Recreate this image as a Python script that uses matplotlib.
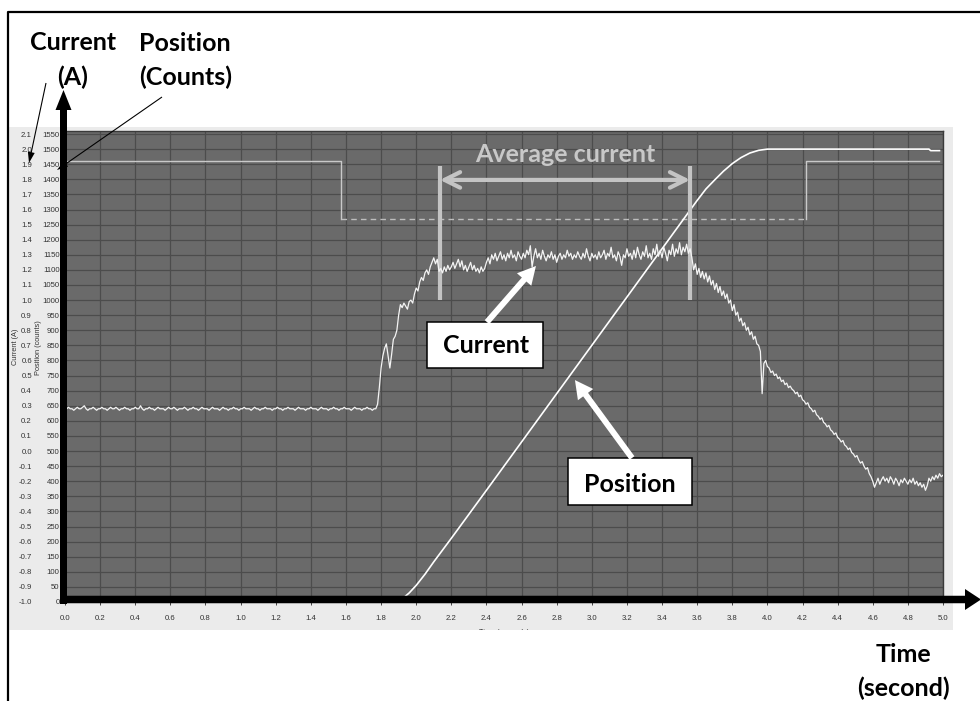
import numpy as np
import matplotlib
matplotlib.use("Agg")
import matplotlib.pyplot as plt
from matplotlib.patches import Rectangle, Polygon
from matplotlib.transforms import Affine2D, IdentityTransform

# ---------------------------------------------------------------- data
# motor current (A), sampled every 10 ms from 0.00 s to 5.00 s
sample_dt = 0.01
current_a = [
    # 0.00 - 1.77 s : idle
    0.28, 0.28, 0.29, 0.28, 0.28, 0.27, 0.28, 0.29, 0.28, 0.28,
    0.29, 0.30, 0.28, 0.27, 0.28, 0.28, 0.29, 0.28, 0.27, 0.28,
    0.28, 0.29, 0.28, 0.28, 0.27, 0.28, 0.29, 0.28, 0.28, 0.29,
    0.28, 0.27, 0.28, 0.28, 0.29, 0.28, 0.28, 0.27, 0.28, 0.28,
    0.29, 0.28, 0.28, 0.30, 0.28, 0.27, 0.28, 0.28, 0.29, 0.28,
    0.28, 0.27, 0.28, 0.29, 0.28, 0.28, 0.28, 0.27, 0.28, 0.29,
    0.28, 0.28, 0.29, 0.28, 0.27, 0.28, 0.28, 0.28, 0.29, 0.28,
    0.27, 0.28, 0.28, 0.29, 0.28, 0.28, 0.27, 0.28, 0.29, 0.28,
    0.28, 0.28, 0.27, 0.28, 0.29, 0.28, 0.28, 0.28, 0.27, 0.28,
    0.29, 0.28, 0.28, 0.27, 0.28, 0.28, 0.29, 0.28, 0.28, 0.27,
    0.28, 0.28, 0.29, 0.28, 0.28, 0.28, 0.27, 0.28, 0.29, 0.28,
    0.28, 0.27, 0.28, 0.28, 0.29, 0.28, 0.28, 0.28, 0.27, 0.28,
    0.28, 0.29, 0.28, 0.28, 0.27, 0.28, 0.28, 0.29, 0.28, 0.28,
    0.28, 0.27, 0.28, 0.29, 0.28, 0.28, 0.28, 0.27, 0.28, 0.28,
    0.29, 0.28, 0.28, 0.28, 0.27, 0.28, 0.29, 0.28, 0.28, 0.28,
    0.27, 0.28, 0.28, 0.29, 0.28, 0.28, 0.27, 0.28, 0.28, 0.29,
    0.28, 0.28, 0.28, 0.27, 0.28, 0.29, 0.28, 0.28, 0.28, 0.27,
    0.28, 0.28, 0.29, 0.28, 0.28, 0.27, 0.28, 0.28,
    # 1.78 - 2.13 s : acceleration
    0.31, 0.42, 0.55, 0.63, 0.68, 0.71, 0.63, 0.55, 0.64, 0.74,
    0.76, 0.80, 0.90, 0.97, 0.95, 0.98, 0.96, 0.94, 0.99, 1.00,
    0.98, 1.04, 1.08, 1.06, 1.12, 1.15, 1.13, 1.18, 1.20, 1.17,
    1.22, 1.25, 1.28, 1.24, 1.27, 1.19,
    # 2.14 - 3.56 s : constant speed
    1.21, 1.18, 1.22, 1.19, 1.23, 1.20, 1.22, 1.25, 1.21, 1.24,
    1.27, 1.22, 1.26, 1.20, 1.23, 1.19, 1.22, 1.25, 1.20, 1.23,
    1.19, 1.21, 1.18, 1.22, 1.19, 1.21, 1.25, 1.28, 1.24, 1.30,
    1.27, 1.31, 1.26, 1.29, 1.32, 1.27, 1.30, 1.26, 1.31, 1.28,
    1.33, 1.28, 1.30, 1.26, 1.32, 1.29, 1.27, 1.31, 1.28, 1.33,
    1.30, 1.36, 1.22, 1.29, 1.34, 1.28, 1.31, 1.27, 1.33, 1.29,
    1.26, 1.30, 1.28, 1.32, 1.27, 1.30, 1.25, 1.29, 1.31, 1.27,
    1.30, 1.28, 1.33, 1.29, 1.31, 1.27, 1.30, 1.28, 1.32, 1.29,
    1.27, 1.31, 1.28, 1.34, 1.29, 1.26, 1.31, 1.28, 1.30, 1.27,
    1.32, 1.28, 1.30, 1.33, 1.27, 1.31, 1.29, 1.35, 1.28, 1.30,
    1.26, 1.32, 1.29, 1.23, 1.30, 1.28, 1.34, 1.29, 1.31, 1.27,
    1.33, 1.28, 1.35, 1.30, 1.27, 1.32, 1.29, 1.36, 1.28, 1.31,
    1.27, 1.34, 1.30, 1.37, 1.29, 1.33, 1.28, 1.35, 1.31, 1.26,
    1.33, 1.30, 1.37, 1.29, 1.34, 1.31, 1.38, 1.30, 1.35, 1.32,
    1.37, 1.31, 1.34,
    # 3.57 - 5.00 s : deceleration and holding
    1.28, 1.20, 1.24, 1.17, 1.21, 1.15, 1.19, 1.14, 1.18, 1.12,
    1.16, 1.10, 1.13, 1.07, 1.11, 1.05, 1.09, 1.03, 1.06, 1.01,
    1.04, 0.98, 1.00, 0.93, 0.97, 0.90, 0.92, 0.86, 0.88, 0.83,
    0.85, 0.80, 0.82, 0.77, 0.79, 0.74, 0.76, 0.71, 0.70, 0.66,
    0.38, 0.58, 0.60, 0.56, 0.55, 0.52, 0.53, 0.50, 0.51, 0.48,
    0.49, 0.46, 0.47, 0.44, 0.45, 0.42, 0.43, 0.41, 0.40, 0.38,
    0.39, 0.36, 0.37, 0.34, 0.33, 0.31, 0.32, 0.29, 0.28, 0.26,
    0.27, 0.24, 0.23, 0.21, 0.22, 0.19, 0.18, 0.16, 0.17, 0.14,
    0.13, 0.11, 0.12, 0.09, 0.08, 0.06, 0.07, 0.04, 0.03, 0.01,
    0.02, -0.01, -0.02, -0.04, -0.03, -0.06, -0.08, -0.07, -0.10, -0.12,
    -0.11, -0.15, -0.17, -0.20, -0.24, -0.21, -0.18, -0.22, -0.19, -0.17,
    -0.20, -0.18, -0.21, -0.17, -0.19, -0.22, -0.18, -0.20, -0.23, -0.19,
    -0.21, -0.18, -0.20, -0.22, -0.19, -0.21, -0.18, -0.22, -0.20, -0.23,
    -0.21, -0.24, -0.22, -0.26, -0.23, -0.18, -0.20, -0.17, -0.19, -0.16,
    -0.18, -0.15, -0.17, -0.16,
]
time_s = np.arange(len(current_a)) * sample_dt

# encoder position (counts)
position_t = [0.00, 1.88, 1.92, 1.96, 2.00, 2.05, 2.10, 2.15, 2.20, 2.40, 2.60,
              2.80, 3.00, 3.20, 3.40, 3.60, 3.65, 3.70, 3.75, 3.80, 3.85,
              3.90, 3.95, 4.00, 4.92, 4.93, 4.98]
position_counts = [0, 0, 10, 30, 55, 92, 133, 172, 211, 370, 530,
                   690, 850, 1010, 1170, 1330, 1368, 1398, 1427, 1452, 1472,
                   1487, 1496, 1500, 1500, 1495, 1495]

# drive status trace (counts scale): high, low while moving, high again
status_t_high1 = [0.00, 1.57, 1.57]
status_c_high1 = [1460, 1460, 1270]
status_t_low = [1.57, 4.22]
status_c_low = [1270, 1270]
status_t_high2 = [4.22, 4.22, 4.98]
status_c_high2 = [1270, 1460, 1460]

# averaging window (s)
avg_window = [2.135, 3.56]

time_ticks = np.round(np.arange(0, 5.01, 0.2), 1)
count_ticks = np.arange(0, 1551, 50)
amp_ticks = np.round(np.arange(-1.0, 2.11, 0.1), 1) + 0.0

# ---------------------------------------------------------------- figure
W, H = 980, 701
fig = plt.figure(figsize=(W / 100, H / 100), dpi=100)
fig.patch.set_facecolor("white")

# image-pixel transform (origin top-left)
px = Affine2D().scale(1 / W, -1 / H).translate(0, 1) + fig.transFigure

BOLD = dict(family="Lato", weight="bold")
TICKFONT = "Liberation Sans"
TICKSIZE = 5.6

# light panel behind the chart
panel = Rectangle((9, 127), 944, 503, transform=px, facecolor="#ebebeb",
                  edgecolor="none", zorder=-5)
fig.add_artist(panel)

# outer frame
fig.add_artist(plt.Line2D([7.5, 7.5, 980], [701, 11.5, 11.5], transform=px,
                          color="black", lw=1.6, zorder=-4))

# ---------------------------------------------------------------- axes
ax_left, ax_right, ax_top, ax_bottom = 65, 943, 131, 602
ax = fig.add_axes([ax_left / W, 1 - ax_bottom / H,
                   (ax_right - ax_left) / W, (ax_bottom - ax_top) / H])
ax.set_facecolor("#6a6a6a")
ax.set_xlim(0, 5)
ax.set_ylim(0, 1560)
ax.set_xticks(time_ticks)
ax.set_xticklabels([f"{v:.1f}" for v in time_ticks])
ax.set_yticks(count_ticks)
ax.set_yticklabels([str(v) for v in count_ticks])
ax.grid(True, color="#4c4c4c", lw=0.9)
ax.set_axisbelow(True)
for side in ("left", "bottom"):
    ax.spines[side].set_visible(False)
for side in ("top", "right"):
    ax.spines[side].set_color("#3a3a3a")
    ax.spines[side].set_linewidth(1.0)
ax.tick_params(axis="x", length=2, width=0.7, color="#444444", pad=7,
               labelsize=TICKSIZE, labelcolor="#333333")
ax.tick_params(axis="y", length=1.5, width=0.7, color="#444444", pad=2.3,
               labelsize=TICKSIZE, labelcolor="#333333")
for lab in ax.get_xticklabels() + ax.get_yticklabels():
    lab.set_family(TICKFONT)

# current scale shares the left side
ax2 = ax.twinx()
ax2.set_ylim(-1.0, -1.0 + 1560 / 500)
ax2.yaxis.set_ticks_position("left")
ax2.set_yticks(amp_ticks)
ax2.set_yticklabels([f"{v:.1f}" for v in amp_ticks])
ax2.tick_params(axis="y", length=0, pad=23.8, labelsize=TICKSIZE,
                labelcolor="#333333")
for lab in ax2.get_yticklabels():
    lab.set_family(TICKFONT)
for s in ax2.spines.values():
    s.set_visible(False)

# traces
ax.plot(status_t_high1, status_c_high1, color="#c9c9c9", lw=1.0)
ax.plot(status_t_low, status_c_low, color="#bdbdbd", lw=1.0,
        dashes=(4, 3))
ax.plot(status_t_high2, status_c_high2, color="#c9c9c9", lw=1.0)
ax.plot(position_t, position_counts, color="white", lw=1.2)
ax2.plot(time_s, current_a, color="#f4f4f4", lw=0.9)

# small axis captions
fig.text(15, 347, "Current (A)", transform=px, rotation=90, ha="center",
         va="center", fontsize=5.3, family=TICKFONT, color="#333333")
fig.text(38, 348, "Position (counts)", transform=px, rotation=90,
         ha="center", va="center", fontsize=5.3, family=TICKFONT,
         color="#333333")
xl = fig.text(504, 632, "Time (seconds)", transform=px, ha="center",
              va="center", fontsize=5.3, family=TICKFONT, color="#333333")
xl.set_clip_path(panel)


# ---------------------------------------------------------------- helpers
def arrow_poly(tail, tip, shaft_w, head_w, head_len):
    tail = np.asarray(tail, float)
    tip = np.asarray(tip, float)
    d = tip - tail
    u = d / np.hypot(*d)
    n = np.array([-u[1], u[0]])
    base = tip - u * head_len
    return np.array([tail + n * shaft_w / 2, base + n * shaft_w / 2,
                     base + n * head_w / 2, tip, base - n * head_w / 2,
                     base - n * shaft_w / 2, tail - n * shaft_w / 2])


def px_arrow(tail, tip, shaft_w, head_w, head_len, color, z=5):
    fig.add_artist(Polygon(arrow_poly(tail, tip, shaft_w, head_w, head_len),
                           closed=True, transform=px, facecolor=color,
                           edgecolor="none", zorder=z))


def data_arrow(tail, tip, shaft_w, head_w, head_len, color, z=5):
    t0 = ax.transData.transform(tail)
    t1 = ax.transData.transform(tip)
    fig.add_artist(Polygon(arrow_poly(t0, t1, shaft_w, head_w, head_len),
                           closed=True, transform=IdentityTransform(),
                           facecolor=color, edgecolor="none", zorder=z))


# ---------------------------------------------------------------- axis arrows
px_arrow((63.5, 604), (63.5, 90), 7, 16, 20, "black")
px_arrow((60, 599.5), (981, 599.5), 7.5, 21, 16, "black")

# header labels
fig.text(73, 50, "Current", transform=px, ha="center", va="baseline",
         fontsize=18, **BOLD)
fig.text(73, 85, "(A)", transform=px, ha="center", va="baseline",
         fontsize=18, **BOLD)
fig.text(185, 51, "Position", transform=px, ha="center", va="baseline",
         fontsize=18, **BOLD)
fig.text(186, 85, "(Counts)", transform=px, ha="center", va="baseline",
         fontsize=18, **BOLD)
px_arrow((46, 83), (29, 163), 1.1, 7, 11, "black")
px_arrow((162, 97), (57, 170), 1.1, 7, 11, "black")

fig.text(903, 662, "Time", transform=px, ha="center", va="baseline",
         fontsize=18, **BOLD)
fig.text(903, 696, "(second)", transform=px, ha="center", va="baseline",
         fontsize=18, **BOLD)

# ---------------------------------------------------------------- in-plot notes
note_grey = "#c4c4c4"
for t in avg_window:
    ax.plot([t, t], [1000, 1444], color=note_grey, lw=3.0,
            solid_capstyle="butt", zorder=6)
ax.annotate("", xy=(avg_window[1], 1398), xytext=(avg_window[0], 1398),
            arrowprops=dict(arrowstyle="<->", color=note_grey, lw=3.0,
                            mutation_scale=28, shrinkA=0, shrinkB=0),
            zorder=6)
ax.text(sum(avg_window) / 2, 1457, "Average current", ha="center",
        va="baseline", fontsize=18, color="#c8c8c8", zorder=6, **BOLD)

# label boxes with pointers
ax.add_patch(Rectangle((2.062, 775), 0.66, 152, facecolor="white",
                       edgecolor="black", lw=1.1, zorder=7))
ax.text(2.397, 825, "Current", ha="center", va="baseline", fontsize=18,
        zorder=8, **BOLD)
ax.add_patch(Rectangle((2.864, 321), 0.707, 156, facecolor="white",
                       edgecolor="black", lw=1.1, zorder=7))
ax.text(3.215, 364, "Position", ha="center", va="baseline", fontsize=18,
        zorder=8, **BOLD)

data_arrow((2.403, 927), (2.682, 1113), 6, 19, 18, "white")
data_arrow((3.229, 477), (2.904, 735), 6, 19, 18, "white")

fig.savefig("out.png", dpi=100)
